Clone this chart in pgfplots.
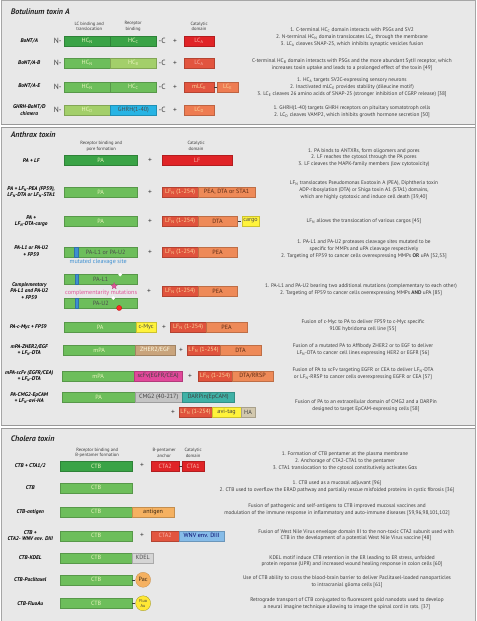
\documentclass[border=0pt]{standalone}
\usepackage{pgfplots}
\pgfplotsset{compat=1.18}
\usepackage{fontspec}
\setmainfont{PT Sans}
\newfontfamily\greekfont{DejaVu Sans}
\definecolor{bg}{HTML}{E8E8E8}
\definecolor{gA}{HTML}{3AA346}
\definecolor{gM}{HTML}{6DBE5B}
\definecolor{gL}{HTML}{A3CF6A}
\definecolor{rA}{HTML}{E02427}
\definecolor{rB}{HTML}{E2553F}
\definecolor{oE}{HTML}{EE7C52}
\definecolor{lfN}{HTML}{E0533D}
\definecolor{pea}{HTML}{EE8A58}
\definecolor{cy}{HTML}{27B4E4}
\definecolor{yel}{HTML}{FFF33B}
\definecolor{tan}{HTML}{C9A47C}
\definecolor{mag}{HTML}{E1489A}
\definecolor{gry}{HTML}{C4C4C4}
\definecolor{teal}{HTML}{3FB1A6}
\definecolor{ha}{HTML}{D2C8AE}
\definecolor{ant}{HTML}{F5B161}
\definecolor{wnv}{HTML}{86BCE8}
\definecolor{kdel}{HTML}{D5D5D5}
\definecolor{tG}{HTML}{EAF5BE}
\definecolor{tR}{HTML}{F8B4A8}
\definecolor{tO}{HTML}{FBD59A}
\definecolor{tD}{HTML}{5A2A14}
\definecolor{txt}{HTML}{3A3A3A}
\definecolor{blu}{HTML}{3D8FD1}
\definecolor{pk}{HTML}{E0559A}
\newcommand{\desc}{\fontsize{5.3}{6.8}\selectfont}
\newcommand{\lab}{\fontsize{5.4}{6.4}\selectfont\bfseries\itshape}
\newcommand{\hdr}{\fontsize{4.6}{5.6}\selectfont}
\newcommand{\bartxt}{\fontsize{6.1}{6.3}\selectfont}
\newcommand{\sgn}{\fontsize{7.5}{8}\selectfont}
% x1 x2 y1 y2 fill textcolor text
\newcommand{\bx}[7]{%
  \addplot[fill=#5, draw=#5!80!black, line width=0.3pt] coordinates {(#1,#3) (#2,#3) (#2,#4) (#1,#4)} -- cycle;
  \node[font=\bartxt, text=#6, inner sep=0pt] at (axis cs:{(#1+#2)/2},{(#3+#4)/2}) {#7};
}
\begin{document}
\begin{tikzpicture}
\begin{axis}[width=474pt, height=621pt, scale only axis, xmin=0, xmax=474, ymin=0, ymax=621,
  y dir=reverse, hide axis, clip=false]
% background
\addplot[fill=bg, draw=gray!70, line width=0.5pt] coordinates {(0,0) (474,0) (474,621) (0,621)} -- cycle;
% separators
\addplot[white, line width=2.5pt] coordinates {(0,125.5) (474,125.5)};
\addplot[gray!80, line width=0.6pt] coordinates {(0,124) (474,124)};
\addplot[gray!80, line width=0.6pt] coordinates {(0,127.2) (474,127.2)};
\addplot[white, line width=2.5pt] coordinates {(0,426.5) (474,426.5)};
\addplot[gray!80, line width=0.6pt] coordinates {(0,425) (474,425)};
\addplot[gray!80, line width=0.6pt] coordinates {(0,428.2) (474,428.2)};

% ================= Botulinum =================
\node[anchor=west, font=\fontsize{8}{9}\selectfont\bfseries\itshape, text=black!85] at (axis cs:6,11) {Botulinum toxin A};
\node[font=\hdr, align=center, text=txt] at (axis cs:88,26) {LC binding and\\translocation};
\node[font=\hdr, align=center, text=txt] at (axis cs:132,26) {Receptor\\binding};
\node[font=\hdr, align=center, text=txt] at (axis cs:198,26) {Catalytic\\domain};

\node[font=\lab, align=center] at (axis cs:28,41) {BoNT/A};
\node[font=\lab, align=center] at (axis cs:28,63) {BoNT/A-B};
\node[font=\lab, align=center] at (axis cs:28,86) {BoNT/A-E};
\node[font=\lab, align=center] at (axis cs:28,110) {GHRH-BoNT/D\\chimera};

% row 1
\node[font=\sgn, text=txt] at (axis cs:56.5,41) {N-};
\bx{63}{109}{36}{46}{gA}{tG}{HC\textsubscript{N}}
\bx{109}{155.5}{36}{46}{gA}{tG}{HC\textsubscript{C}}
\node[font=\sgn, text=txt] at (axis cs:161,41) {-C};
\node[font=\sgn, text=txt] at (axis cs:174,41) {+};
\bx{183}{213}{36}{46}{rA}{tR}{LC\textsubscript{A}}
% row 2
\node[font=\sgn, text=txt] at (axis cs:56.5,63) {N-};
\bx{63}{109}{58}{68}{gM}{tG}{HC\textsubscript{N}}
\bx{109}{155.5}{58}{68}{gL}{tG}{HC\textsubscript{B}}
\node[font=\sgn, text=txt] at (axis cs:161,63) {-C};
\node[font=\sgn, text=txt] at (axis cs:174,63) {+};
\bx{183}{213}{58}{68}{rB}{tR}{LC\textsubscript{A}}
% row 3
\node[font=\sgn, text=txt] at (axis cs:56.5,87) {N-};
\bx{63}{109}{82}{92}{gM}{tG}{HC\textsubscript{N}}
\bx{109}{155.5}{82}{92}{gM}{tG}{HC\textsubscript{C}}
\node[font=\sgn, text=txt] at (axis cs:161,87) {-C};
\node[font=\sgn, text=txt] at (axis cs:174,87) {+};
\bx{183}{213}{82}{92}{rB}{tO}{mLC\textsubscript{E}}
\addplot[txt, line width=0.5pt] coordinates {(213,87) (216,87)};
\bx{216}{237}{82}{92}{oE}{tO}{LC\textsubscript{E}}
% row 4
\node[font=\sgn, text=txt] at (axis cs:56.5,110) {N-};
\bx{63}{109}{105}{115}{gL}{tG}{HC\textsubscript{D}}
\bx{109}{155.5}{105}{115}{cy}{black!70}{GHRH(1-40)}
\node[font=\sgn, text=txt] at (axis cs:161,110) {-C};
\node[font=\sgn, text=txt] at (axis cs:174,110) {+};
\bx{183}{213}{105}{115}{oE}{tO}{LC\textsubscript{D}}

\node[font=\desc, align=center, text=txt] at (axis cs:351,37) {1. C-terminal HC\textsubscript{C} domain interacts with PSGs and SV2\\2. N-terminal HC\textsubscript{N} domain translocates LC\textsubscript{A} through the membrane\\3. LC\textsubscript{A} cleaves SNAP-25, which inhibits synaptic vesicles fusion};
\node[font=\desc, align=center, text=txt] at (axis cs:351,64.5) {C-terminal HC\textsubscript{B} domain interacts with PSGs and the more abundant SytII receptor, which\\increases toxin uptake and leads to a prolonged effect of the toxin [49]};
\node[font=\desc, align=center, text=txt] at (axis cs:351,87) {1. HC\textsubscript{A} targets SV2C-expressing sensory neurons\\2. Inactivated mLC\textsubscript{E} provides stability (dileucine motif)\\3. LC\textsubscript{E} cleaves 26 amino acids of SNAP-25 (stronger inhibition of CGRP release) [38]};
\node[font=\desc, align=center, text=txt] at (axis cs:351,111.5) {1. GHRH(1-40) targets GHRH receptors on pituitary somatotroph cells\\2. LC\textsubscript{D} cleaves VAMP2, which inhibits growth hormone secretion [50]};

% ================= Anthrax =================
\node[anchor=west, font=\fontsize{8}{9}\selectfont\bfseries\itshape, text=black!85] at (axis cs:6,135) {Anthrax toxin};
\node[font=\hdr, align=center, text=txt] at (axis cs:100,146) {Receptor binding and\\pore formation};
\node[font=\hdr, align=center, text=txt] at (axis cs:195,146) {Catalytic\\domain};

\node[font=\lab, align=center] at (axis cs:30,160) {PA + LF};
\node[font=\lab, align=center] at (axis cs:30,192) {PA + LF\textsubscript{N}-PEA (FP59),\\LF\textsubscript{N}-DTA or LF\textsubscript{N}-STA1};
\node[font=\lab, align=center] at (axis cs:30,221) {PA +\\LF\textsubscript{N}-DTA-cargo};
\node[font=\lab, align=center] at (axis cs:30,251) {PA-L1 or PA-U2\\+ FP59};
\node[font=\lab, align=center] at (axis cs:28,291) {Complementary\\PA-L1 and PA-U2\\+ FP59};
\node[font=\lab, align=center] at (axis cs:27,327) {PA-c-Myc + FP59};
\node[font=\lab, align=center] at (axis cs:28,350) {mPA-ZHER2/EGF\\+ LF\textsubscript{N}-DTA};
\node[font=\lab, align=center] at (axis cs:28,376) {mPA-scFv (EGFR/CEA)\\+ LF\textsubscript{N}-DTA};
\node[font=\lab, align=center] at (axis cs:28,398) {PA-CMG2-EpCAM\\+ LF\textsubscript{N}-avi-HA};

% A1
\bx{63}{136}{155}{165}{gA}{tG}{PA}
\node[font=\sgn, text=txt] at (axis cs:149,160) {+};
\bx{161}{231}{155}{165}{rA}{tR}{LF}
% A2
\bx{63}{136}{187}{197}{gM}{tG}{PA}
\node[font=\sgn, text=txt] at (axis cs:149,192) {+};
\bx{161}{197}{187}{197}{lfN}{tO}{LF\textsubscript{N} (1-254)}
\bx{197}{254}{187}{197}{pea}{tD}{PEA, DTA or STA1}
% A3
\bx{63}{136}{216}{226}{gM}{tG}{PA}
\node[font=\sgn, text=txt] at (axis cs:149,221) {+};
\bx{161}{197}{216}{226}{lfN}{tO}{LF\textsubscript{N} (1-254)}
\bx{197}{236}{216}{226}{pea}{tD}{DTA}
\addplot[txt, line width=0.5pt] coordinates {(237,221) (240,221)};
\bx{241}{258}{216}{226}{yel}{black!70}{cargo}
% A4
\bx{63}{136}{247}{257}{gM}{black!70}{\hspace*{10pt}PA-L1 or PA-U2}
\addplot[fill=blu, draw=blu!80!black, line width=0.2pt] coordinates {(73,247) (77,247) (77,257) (73,257)} -- cycle;
\node[font=\bartxt, text=blu] at (axis cs:97,261.5) {mutated cleavage site};
\node[font=\sgn, text=txt] at (axis cs:149,252) {+};
\bx{161}{197}{247}{257}{lfN}{tO}{LF\textsubscript{N} (1-254)}
\bx{197}{236}{247}{257}{pea}{tD}{PEA}
% A5 complementary
\bx{63}{136}{274.5}{284.5}{gM}{black!70}{PA-L1}
\addplot[fill=blu, draw=blu!80!black, line width=0.2pt] coordinates {(74,274.5) (77,274.5) (77,284.5) (74,284.5)} -- cycle;
\addplot[only marks, mark=*, mark size=1.6pt, mark options={fill=white, draw=white}] coordinates {(119,274.5)};
\addplot[fill=pk, draw=pk!80!black, line width=0.2pt] coordinates {(113,282.5) (112.12,284.79) (109.67,284.92) (111.57,286.46) (110.94,288.83) (113,287.5) (115.06,288.83) (114.43,286.46) (116.33,284.92) (113.88,284.79)} -- cycle;
\node[font=\bartxt, text=pk] at (axis cs:100,292.5) {complementarity mutations};
\bx{63}{136}{298}{308}{gM}{black!70}{PA-U2}
\addplot[fill=blu, draw=blu!80!black, line width=0.2pt] coordinates {(74,298) (77,298) (77,308) (74,308)} -- cycle;
\addplot[only marks, mark=*, mark size=1.6pt, mark options={fill=white, draw=white}] coordinates {(112,298)};
\addplot[only marks, mark=*, mark size=2.6pt, mark options={fill=red!80!pink, draw=red!70!black, line width=0.2pt}] coordinates {(118,308)};
\node[font=\sgn, text=txt] at (axis cs:148,291) {+};
\bx{161}{197}{286}{296}{lfN}{tO}{LF\textsubscript{N} (1-254)}
\bx{197}{236}{286}{296}{pea}{tD}{PEA}
% A6 c-Myc
\bx{63}{135}{322}{332}{gM}{tG}{PA}
\bx{135}{155}{322}{332}{yel}{black!70}{c-Myc}
\node[font=\sgn, text=txt] at (axis cs:163,327) {+};
\bx{169}{205}{322}{332}{lfN}{tO}{LF\textsubscript{N} (1-254)}
\bx{205}{246}{322}{332}{pea}{tD}{PEA}
% A7 ZHER2
\bx{62}{134}{345}{355}{gM}{tG}{mPA}
\bx{134}{174}{345}{355}{tan}{white!90!yellow}{ZHER2/EGF}
\node[font=\sgn, text=txt] at (axis cs:180,350) {+};
\bx{186}{219}{345}{355}{lfN}{tO}{LF\textsubscript{N} (1-254)}
\bx{219}{260}{345}{355}{pea}{tD}{DTA}
% A8 scFv
\bx{61}{133}{371}{381}{gM}{tG}{mPA}
\bx{133}{181}{371}{381}{mag}{black!75}{scFv(EGFR/CEA)}
\node[font=\sgn, text=txt] at (axis cs:189,376) {+};
\bx{197}{231}{371}{381}{lfN}{tO}{LF\textsubscript{N} (1-254)}
\bx{231}{272}{371}{381}{pea}{tD}{DTA/RRSP}
% A9 CMG2
\bx{61}{134}{392}{402}{gM}{tG}{PA}
\bx{134}{181}{392}{402}{gry}{black!75}{CMG2 (40-217)}
\bx{181}{233}{392}{402}{teal}{black!75}{DARPin(EpCAM)}
\node[font=\sgn, text=txt] at (axis cs:172,412.5) {+};
\bx{178}{211}{407.5}{417.5}{lfN}{tO}{LF\textsubscript{N} (1-254)}
\bx{211}{240}{407.5}{417.5}{yel}{black!75}{avi-tag}
\bx{240}{254}{407.5}{417.5}{ha}{black!75}{HA}

\node[font=\desc, align=center, text=txt] at (axis cs:363,157.5) {1. PA binds to ANTXRs, form oligomers and pores\\2. LF reaches the cytosol through the PA pores\\3. LF cleaves the MAPK-family members (low cytotoxicity)};
\node[font=\desc, align=center, text=txt] at (axis cs:363,190) {LF\textsubscript{N} translocates Pseudomonas Exotoxin A (PEA), Diphtheria toxin\\ADP-ribosylation (DTA) or Shiga toxin A1 (STA1) domains,\\which are highly cytotoxic and induce cell death [39,40]};
\node[font=\desc, align=center, text=txt] at (axis cs:363,221) {LF\textsubscript{N} allows the translocation of various cargos [45]};
\node[font=\desc, align=center, text=txt] at (axis cs:363,249) {1. PA-L1 and PA-U2 proteases cleavage sites mutated to be\\specific for MMPs and uPA cleavage respectively\\2. Targeting of FP59 to cancer cells overexpressing MMPs \textbf{OR} uPA [52,53]};
\node[font=\desc, align=center, text=txt] at (axis cs:360,290) {1. PA-L1 and PA-U2 bearing two additional mutations (complementary to each other)\\2. Targeting of FP59 to cancer cells overexpressing MMPs \textbf{AND} uPA [85]};
\node[font=\desc, align=center, text=txt] at (axis cs:362,325.5) {Fusion of c-Myc to PA to deliver FP59 to c-Myc specific\\910E hybridoma cell line [55]};
\node[font=\desc, align=center, text=txt] at (axis cs:362,349.5) {Fusion of a mutated PA to Affibody ZHER2 or to EGF to deliver\\LF\textsubscript{N}-DTA to cancer cell lines expressing HER2 or EGFR [56]};
\node[font=\desc, align=center, text=txt] at (axis cs:362,373.5) {Fusion of PA to scFv targeting EGFR or CEA to deliver LF\textsubscript{N}-DTA\\or LF\textsubscript{N}-RRSP to cancer cells overexpressing EGFR or CEA [57]};
\node[font=\desc, align=center, text=txt] at (axis cs:365,405.5) {Fusion of PA to an extracellular domain of CMG2 and a DARPin\\designed to target EpCAM-expressing cells [58]};

% ================= Cholera =================
\node[anchor=west, font=\fontsize{8}{9}\selectfont\bfseries\itshape, text=black!85] at (axis cs:6,439) {Cholera toxin};
\node[font=\hdr, align=center, text=txt] at (axis cs:96,453) {Receptor binding and\\B-pentamer formation};
\node[font=\hdr, align=center, text=txt] at (axis cs:163,453) {B-pentamer\\anchor};
\node[font=\hdr, align=center, text=txt] at (axis cs:192,453) {Catalytic\\domain};

\node[font=\lab, align=center] at (axis cs:29,466) {CTB + CTA1/2};
\node[font=\lab, align=center] at (axis cs:29,488) {CTB};
\node[font=\lab, align=center] at (axis cs:29,512) {CTB-antigen};
\node[font=\lab, align=center] at (axis cs:29,536) {CTB +\\CTA2- WNV env. DIII};
\node[font=\lab, align=center] at (axis cs:29,558) {CTB-KDEL};
\node[font=\lab, align=center] at (axis cs:29,580) {CTB-Paclitaxel};
\node[font=\lab, align=center] at (axis cs:29,604) {CTB-FluoAu};

\bx{59}{131}{461}{471}{gA}{tG}{CTB}
\node[font=\sgn, text=txt] at (axis cs:141,466) {+};
\bx{150}{178}{461}{471}{rA}{tR}{CTA2}
\addplot[txt, line width=0.5pt] coordinates {(178,466) (181,466)};
\bx{181}{203}{461}{471}{rA}{tR}{CTA1}

\bx{59}{131}{483}{493}{gM}{tG}{CTB}

\bx{59}{131}{507}{517}{gM}{tG}{CTB}
\bx{131}{173}{507}{517}{ant}{black!70!brown}{antigen}

\bx{59}{131}{531}{541}{gM}{tG}{CTB}
\node[font=\sgn, text=txt] at (axis cs:141,536) {+};
\bx{150}{178}{531}{541}{rB}{tR}{CTA2}
\bx{178}{223}{531}{541}{wnv}{blue!40!black}{WNV env. DIII}

\bx{59}{131}{553}{563}{gM}{tG}{CTB}
\bx{131}{152}{553}{563}{kdel}{black!70}{KDEL}

\bx{59}{131}{575}{585}{gM}{tG}{CTB}
\addplot[txt, line width=0.5pt] coordinates {(131,580) (134,580)};
\addplot[only marks, mark=*, mark size=7.5pt, mark options={fill=ant, draw=ant!80!black, line width=0.3pt},
  nodes near coords={Pac}, nodes near coords align={center},
  every node near coord/.append style={font=\bartxt, text=black!70!brown, inner sep=0pt}] coordinates {(142,580)};

\bx{59}{131}{598.5}{608.5}{gM}{tG}{CTB}
\addplot[txt, line width=0.5pt] coordinates {(131,603.5) (134,603.5)};
\addplot[only marks, mark=*, mark size=7.5pt, mark options={fill=yel!90!orange, draw=yel!60!black, line width=0.3pt},
  nodes near coords={Fluo\\Au}, nodes near coords align={center},
  every node near coord/.append style={font=\fontsize{4.3}{4.8}\selectfont, text=black!75, align=center, inner sep=0pt}] coordinates {(142,603.5)};

\node[font=\desc, align=center, text=txt] at (axis cs:344,461) {1. Formation of CTB pentamer at the plasma membrane\\2. Anchorage of CTA2-CTA1 to the pentamer\\3. CTA1 translocation to the cytosol constitutively activates G{\greekfont α}s};
\node[font=\desc, align=center, text=txt] at (axis cs:336,486.5) {1. CTB used as a mucosal adjuvant [96]\\2. CTB used to overflow the ERAD pathway and partially rescue misfolded proteins in cystic fibrosis [36]};
\node[font=\desc, align=center, text=txt] at (axis cs:336,509.5) {Fusion of pathogenic and self-antigens to CTB improved mucosal vaccines and\\modulation of the immune response in inflammatory and auto-immune diseases [59,96,98,101,102]};
\node[font=\desc, align=center, text=txt] at (axis cs:355,535.5) {Fusion of West Nile Virus envelope domain III to the non-toxic CTA2 subunit used with\\CTB in the development of a potential West Nile Virus vaccine [48]};
\node[font=\desc, align=center, text=txt] at (axis cs:351,561.5) {KDEL motif induce CTB retention in the ER leading to ER stress, unfolded\\protein reponse (UPR) and increased wound healing response in colon cells [60]};
\node[font=\desc, align=center, text=txt] at (axis cs:346,582) {Use of CTB ability to cross the blood-brain barrier to deliver Paclitaxel-loaded nanoparticles\\to intracranial glioma cells [61]};
\node[font=\desc, align=center, text=txt] at (axis cs:346,604) {Retrograde transport of CTB conjugated to fluorescent gold nanodots used to develop\\a neural imagine technique allowing to image the spinal cord in rats. [37]};
\end{axis}
\end{tikzpicture}
\end{document}
